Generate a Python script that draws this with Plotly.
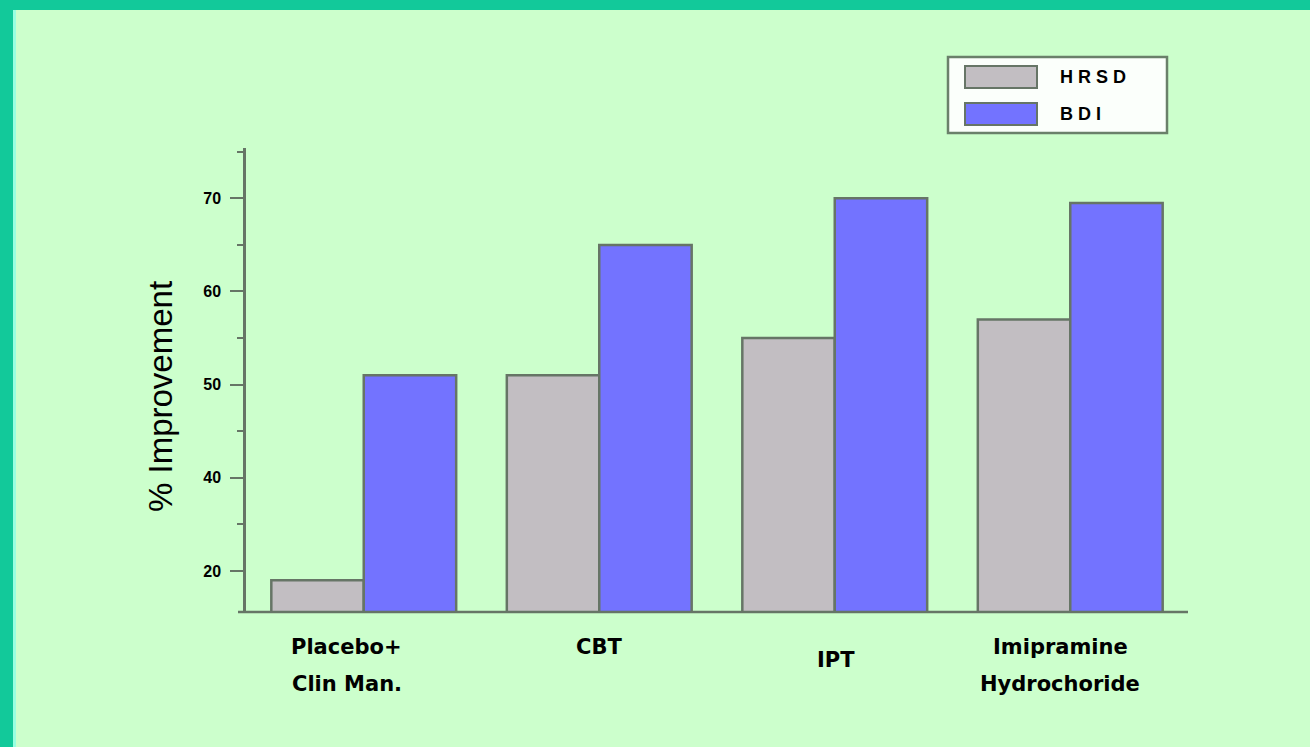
import plotly.graph_objects as go

W, H = 1310, 747
L, R, T, B = 246, 1188, 148, 612  # plot area in pixels

categories = ["Placebo+<br>Clin Man.", "CBT", "IPT", "Imipramine<br>Hydrochoride"]
series_names = ["HRSD", "BDI"]
hrsd = [29, 51, 55, 57]
bdi = [51, 65, 70, 69.5]
tick_values = [30, 40, 50, 60, 70]
tick_labels = ["20", "40", "50", "60", "70"]
minor_ticks = [35, 45, 55, 65, 75]

GRAY = "#C2BEC2"
BLUE = "#7373FF"
EDGE = "#667566"
BG = "#CCFFCC"
TEAL = "#12C99A"
FONT = "Liberation Sans"

def px(x):
    return (x - L) / (R - L)

def py(y):
    return (B - y) / (B - T)

fig = go.Figure()
fig.add_trace(go.Bar(x=list(range(len(categories))), y=hrsd, name=series_names[0],
                     marker=dict(color=GRAY, line=dict(color=EDGE, width=2.5))))
fig.add_trace(go.Bar(x=list(range(len(categories))), y=bdi, name=series_names[1],
                     marker=dict(color=BLUE, line=dict(color=EDGE, width=2.5))))

shapes = []
shapes.append(dict(type="rect", xref="paper", yref="paper", x0=px(0), x1=px(W), y0=py(10), y1=py(0),
                   fillcolor=TEAL, line=dict(width=0), layer="below"))
shapes.append(dict(type="rect", xref="paper", yref="paper", x0=px(0), x1=px(13), y0=py(H), y1=py(0),
                   fillcolor=TEAL, line=dict(width=0), layer="below"))
shapes.append(dict(type="rect", xref="paper", yref="paper", x0=px(13), x1=px(16), y0=py(H), y1=py(10),
                   fillcolor="#98FFE0", line=dict(width=0), layer="below"))
shapes.append(dict(type="line", xref="paper", yref="paper", x0=px(238), x1=px(1188), y0=0, y1=0,
                   line=dict(color=EDGE, width=2.5)))
# legend box
shapes.append(dict(type="rect", xref="paper", yref="paper", x0=px(948), x1=px(1167), y0=py(133), y1=py(57),
                   fillcolor="#FBFFFB", line=dict(color="#6A806A", width=2.5)))
shapes.append(dict(type="rect", xref="paper", yref="paper", x0=px(965), x1=px(1037), y0=py(88), y1=py(66),
                   fillcolor=GRAY, line=dict(color=EDGE, width=2)))
shapes.append(dict(type="rect", xref="paper", yref="paper", x0=px(965), x1=px(1037), y0=py(125), y1=py(103),
                   fillcolor=BLUE, line=dict(color=EDGE, width=2)))

annotations = []
annotations.append(dict(xref="paper", yref="paper", x=px(1058), y=py(77), text="H R S D", showarrow=False,
                        xanchor="left", yanchor="middle", font=dict(family=FONT, size=18, color="#000000", weight="bold")))
annotations.append(dict(xref="paper", yref="paper", x=px(1058), y=py(114), text="B D I", showarrow=False,
                        xanchor="left", yanchor="middle", font=dict(family=FONT, size=18, color="#000000", weight="bold")))
annotations.append(dict(xref="paper", yref="paper", x=px(160), y=py(397), text="% Improvement", showarrow=False,
                        textangle=-90, xanchor="center", yanchor="middle",
                        font=dict(family=FONT, size=33, color="#000000")))
# category labels, one annotation per line
label_shift = [-17, 0, 1, -10]
label_y = [647, 647, 660, 647]
for i, c in enumerate(categories):
    for j, line in enumerate(c.split("<br>")):
        annotations.append(dict(xref="x", yref="paper", x=i, y=py(label_y[i] + 37 * j), text=line,
                                showarrow=False, xshift=label_shift[i], xanchor="center", yanchor="middle",
                                font=dict(family="DejaVu Sans", size=21, color="#000000", weight="bold")))

fig.update_layout(
    width=W, height=H,
    margin=dict(l=L, r=W - R, t=T, b=H - B, pad=0),
    paper_bgcolor=BG, plot_bgcolor=BG,
    barmode="group", bargap=0.215, bargroupgap=0,
    showlegend=False,
    shapes=shapes, annotations=annotations,
    xaxis=dict(range=[-0.5, 3.5], showticklabels=False, ticks="", showgrid=False, zeroline=False,
               showline=False, fixedrange=True),
    yaxis=dict(range=[25.6, 75.4], tickvals=tick_values, ticktext=tick_labels,
               ticks="outside", ticklen=13, tickwidth=2, tickcolor=EDGE,
               showline=True, linecolor=EDGE, linewidth=2.5, showgrid=False, zeroline=False,
               ticklabelstandoff=6,
               tickfont=dict(family=FONT, size=16, color="#000000", weight="bold"),
               minor=dict(tickvals=minor_ticks, ticks="outside", ticklen=6, tickwidth=2, tickcolor=EDGE,
                          showgrid=False)),
)

fig.write_html("out.html")
